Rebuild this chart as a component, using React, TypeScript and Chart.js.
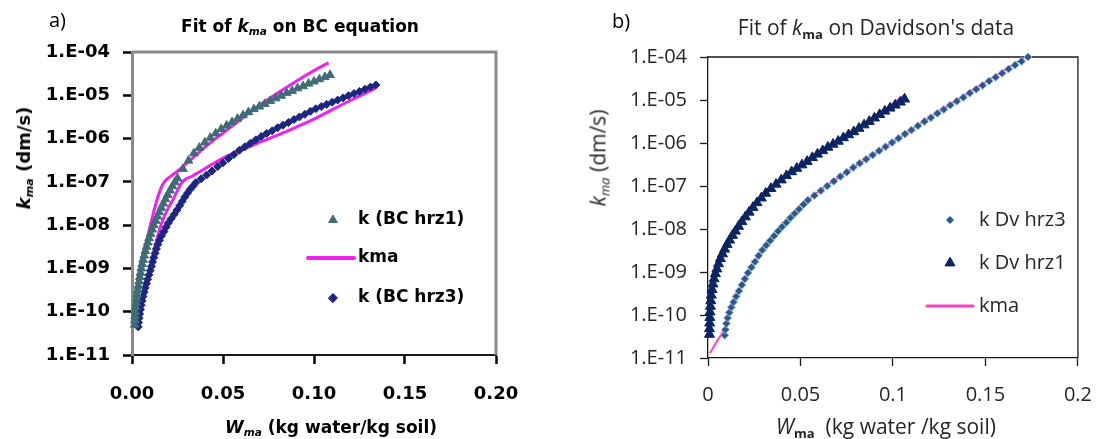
import React, { useEffect, useRef } from 'react';
import { Chart, registerables } from 'chart.js';
import { drawPoint } from 'chart.js/helpers';

Chart.register(...registerables);

// ---------- ticks ----------
const xTickValues = [0, 0.05, 0.1, 0.15, 0.2];
const leftXTickLabels = ['0.00', '0.05', '0.10', '0.15', '0.20'];
const rightXTickLabels = ['0', '0.05', '0.1', '0.15', '0.2'];
const yTickValues = [1e-11, 1e-10, 1e-9, 1e-8, 1e-7, 1e-6, 1e-5, 1e-4];
const yTickLabels = ['1.E-11', '1.E-10', '1.E-09', '1.E-08', '1.E-07', '1.E-06', '1.E-05', '1.E-04'];

// ---------- panel a) : W (kg/kg) and log10 k (dm/s) ----------
const leftHrz1W = [0.0015, 0.0016, 0.0017, 0.0018, 0.0020, 0.0022, 0.0025, 0.0028, 0.0031, 0.0035, 0.0039, 0.0043, 0.0047, 0.0051, 0.0056, 0.0061, 0.0067, 0.0073, 0.0080, 0.0087, 0.0094, 0.0102, 0.0111, 0.0120, 0.0130, 0.0140, 0.0150, 0.0161, 0.0172, 0.0184, 0.0196, 0.0209, 0.0222, 0.0236, 0.0250, 0.0280, 0.0310, 0.0340, 0.0370, 0.0400, 0.0430, 0.0460, 0.0490, 0.0520, 0.0550, 0.0580, 0.0610, 0.0640, 0.0670, 0.0700, 0.0730, 0.0760, 0.0790, 0.0820, 0.0850, 0.0880, 0.0910, 0.0940, 0.0970, 0.1000, 0.1030, 0.1060, 0.1088];
const leftHrz1LogK = [-10.30, -10.20, -10.10, -10.00, -9.90, -9.80, -9.70, -9.60, -9.50, -9.40, -9.30, -9.20, -9.10, -9.00, -8.90, -8.80, -8.70, -8.60, -8.50, -8.40, -8.30, -8.20, -8.10, -8.00, -7.90, -7.80, -7.70, -7.60, -7.50, -7.40, -7.30, -7.20, -7.10, -7.01, -6.92, -6.70, -6.51, -6.34, -6.21, -6.09, -5.98, -5.88, -5.78, -5.70, -5.62, -5.54, -5.46, -5.39, -5.32, -5.26, -5.20, -5.13, -5.07, -5.01, -4.95, -4.90, -4.84, -4.79, -4.73, -4.68, -4.63, -4.58, -4.53];

const leftHrz3W = [0.0034, 0.0036, 0.0039, 0.0042, 0.0046, 0.0050, 0.0055, 0.0060, 0.0066, 0.0072, 0.0079, 0.0086, 0.0093, 0.0100, 0.0107, 0.0113, 0.0120, 0.0127, 0.0134, 0.0142, 0.0151, 0.0162, 0.0175, 0.0187, 0.0200, 0.0215, 0.0232, 0.0247, 0.0262, 0.0276, 0.0290, 0.0305, 0.0320, 0.0335, 0.0350, 0.038, 0.041, 0.044, 0.047, 0.050, 0.053, 0.056, 0.059, 0.062, 0.065, 0.068, 0.071, 0.074, 0.077, 0.080, 0.083, 0.086, 0.089, 0.092, 0.095, 0.098, 0.101, 0.104, 0.107, 0.110, 0.113, 0.116, 0.119, 0.122, 0.125, 0.128, 0.131, 0.134];
const leftHrz3LogK = [-10.35, -10.25, -10.15, -10.05, -9.95, -9.85, -9.75, -9.65, -9.55, -9.45, -9.35, -9.25, -9.15, -9.05, -8.95, -8.85, -8.75, -8.65, -8.55, -8.45, -8.35, -8.25, -8.15, -8.05, -7.95, -7.85, -7.75, -7.65, -7.55, -7.45, -7.35, -7.26, -7.17, -7.10, -7.02, -6.93, -6.84, -6.75, -6.65, -6.56, -6.46, -6.37, -6.27, -6.19, -6.11, -6.03, -5.95, -5.88, -5.82, -5.75, -5.69, -5.63, -5.56, -5.50, -5.44, -5.37, -5.31, -5.26, -5.21, -5.16, -5.11, -5.06, -5.01, -4.96, -4.91, -4.86, -4.81, -4.76];

const leftKma1W = [0.0020, 0.0030, 0.0044, 0.0060, 0.0080, 0.0100, 0.0120, 0.0140, 0.0160, 0.0180, 0.0210, 0.0260, 0.0320, 0.0400, 0.0500, 0.0600, 0.0700, 0.0800, 0.0900, 0.1000, 0.1080];
const leftKma1LogK = [-9.70, -9.35, -9.03, -8.72, -8.38, -8.02, -7.68, -7.38, -7.14, -6.99, -6.88, -6.72, -6.50, -6.20, -5.87, -5.55, -5.23, -4.95, -4.68, -4.43, -4.25];

const leftKma3W = [0.0050, 0.0060, 0.0070, 0.0081, 0.0090, 0.0099, 0.0112, 0.0126, 0.0150, 0.0172, 0.0200, 0.0227, 0.0250, 0.0270, 0.0290, 0.0330, 0.0374, 0.0430, 0.0500, 0.0600, 0.0700, 0.0800, 0.0900, 0.1000, 0.1100, 0.1200, 0.1337];
const leftKma3LogK = [-10.00, -9.80, -9.62, -9.45, -9.25, -9.03, -8.76, -8.50, -8.12, -7.85, -7.60, -7.40, -7.20, -7.04, -6.95, -6.87, -6.76, -6.62, -6.45, -6.27, -6.09, -5.92, -5.74, -5.55, -5.33, -5.12, -4.84];

// ---------- panel b) ----------
const rightHrz1W = [0.0008, 0.0008, 0.0009, 0.0010, 0.0011, 0.0013, 0.0015, 0.0018, 0.0022, 0.0027, 0.0033, 0.0040, 0.0048, 0.0057, 0.0067, 0.0078, 0.0090, 0.0103, 0.0117, 0.0132, 0.0148, 0.0165, 0.0183, 0.0202, 0.0222, 0.0243, 0.0265, 0.0288, 0.0312, 0.0340, 0.0368, 0.0396, 0.0424, 0.0452, 0.0480, 0.0508, 0.0536, 0.0564, 0.0592, 0.0620, 0.0648, 0.0676, 0.0704, 0.0732, 0.0760, 0.0788, 0.0816, 0.0844, 0.0872, 0.0900, 0.0928, 0.0956, 0.0984, 0.1012, 0.1040, 0.1063];
const rightHrz1LogK = [-10.45, -10.32, -10.19, -10.06, -9.93, -9.80, -9.67, -9.54, -9.41, -9.28, -9.16, -9.04, -8.93, -8.81, -8.69, -8.58, -8.47, -8.36, -8.26, -8.15, -8.05, -7.94, -7.83, -7.72, -7.61, -7.50, -7.39, -7.28, -7.17, -7.06, -6.96, -6.86, -6.76, -6.67, -6.59, -6.51, -6.43, -6.34, -6.26, -6.18, -6.10, -6.03, -5.96, -5.88, -5.81, -5.74, -5.66, -5.58, -5.50, -5.42, -5.34, -5.26, -5.19, -5.12, -5.05, -4.98];

const rightKma1W = [0.0002, 0.0015, 0.0030, 0.0050, 0.0080, 0.0120, 0.0180, 0.0250, 0.0340, 0.0450, 0.0600, 0.0750, 0.0900, 0.1063];
const rightKma1LogK = [-9.57, -9.30, -9.05, -8.82, -8.55, -8.22, -7.83, -7.45, -7.04, -6.66, -6.21, -5.80, -5.39, -4.88];

const rightHrz3W = [0.0090, 0.0094, 0.0099, 0.0106, 0.0115, 0.0126, 0.0138, 0.0152, 0.0167, 0.0183, 0.0199, 0.0216, 0.0235, 0.0254, 0.0274, 0.0294, 0.0315, 0.0336, 0.0357, 0.0379, 0.0400, 0.0423, 0.0446, 0.0469, 0.0492, 0.0516, 0.0540, 0.0575, 0.0610, 0.0645, 0.0680, 0.0715, 0.0750, 0.0785, 0.0820, 0.0855, 0.0890, 0.0925, 0.0960, 0.0995, 0.1030, 0.1065, 0.1100, 0.1135, 0.1170, 0.1205, 0.1240, 0.1275, 0.1310, 0.1345, 0.1380, 0.1415, 0.1450, 0.1485, 0.1520, 0.1555, 0.1590, 0.1625, 0.1660, 0.1695, 0.1730];
const rightHrz3LogK = [-10.47, -10.34, -10.20, -10.07, -9.94, -9.82, -9.70, -9.57, -9.44, -9.30, -9.16, -9.02, -8.89, -8.76, -8.62, -8.49, -8.38, -8.27, -8.16, -8.05, -7.95, -7.85, -7.74, -7.64, -7.54, -7.43, -7.33, -7.22, -7.11, -7.00, -6.89, -6.78, -6.68, -6.57, -6.47, -6.38, -6.28, -6.18, -6.09, -5.99, -5.89, -5.79, -5.70, -5.60, -5.50, -5.41, -5.31, -5.22, -5.12, -5.03, -4.94, -4.84, -4.75, -4.66, -4.56, -4.47, -4.38, -4.28, -4.19, -4.10, -4.00];

const rightKma3W = [0.0010, 0.0050, 0.0090, 0.0120, 0.0152, 0.0214, 0.0294, 0.0400, 0.0540, 0.0789, 0.0948, 0.1142, 0.1337, 0.1532, 0.1715];
const rightKma3LogK = [-10.89, -10.60, -10.31, -9.95, -9.60, -9.05, -8.50, -7.95, -7.33, -6.56, -6.12, -5.57, -5.03, -4.50, -4.00];

const leftLegendLabels = ['k (BC hrz1)', 'kma', 'k (BC hrz3)'];
const rightLegendLabels = ['k Dv hrz3', 'k Dv hrz1', 'kma'];

// ---------- colours ----------
const TEAL = '#3f6c76';
const NAVY_L = '#1c2680';
const PINK_L = '#f020f0';
const NAVY_R = '#0b2462';
const STEEL_R = '#2b5886';
const STEEL_R_EDGE = '#8fb4dc';
const PINK_R = '#ff3fc4';

const toPoints = (ws: number[], logs: number[]) => ws.map((w, i) => ({ x: w, y: Math.pow(10, logs[i]) }));

const framePlugin = {
  id: 'frame',
  beforeDatasetsDraw(chart: any, _args: any, opts: any) {
    const { ctx, chartArea: a } = chart;
    ctx.save();
    ctx.strokeStyle = opts.color;
    ctx.lineWidth = opts.width;
    ctx.beginPath();
    ctx.moveTo(a.left, a.top);
    ctx.lineTo(a.right, a.top);
    ctx.lineTo(a.right, a.bottom);
    ctx.stroke();
    ctx.restore();
  },
};

const legendPlugin = {
  id: 'boxLegend',
  afterDatasetsDraw(chart: any, _args: any, opts: any) {
    const { ctx, chartArea: a } = chart;
    ctx.save();
    opts.items.forEach((it: any, i: number) => {
      const y = a.top + opts.rows[i];
      if (it.kind === 'line') {
        ctx.strokeStyle = it.color;
        ctx.lineWidth = it.width;
        ctx.lineCap = 'round';
        ctx.beginPath();
        ctx.moveTo(a.left + opts.lineX0, y);
        ctx.lineTo(a.left + opts.lineX1, y);
        ctx.stroke();
      } else {
        ctx.fillStyle = it.color;
        ctx.strokeStyle = it.edge || it.color;
        ctx.lineWidth = 1;
        drawPoint(ctx, { pointStyle: it.style, radius: it.radius, rotation: 0, borderWidth: 1 } as any, a.left + opts.markerX, y);
      }
      ctx.font = opts.font;
      ctx.fillStyle = opts.textColor;
      ctx.textBaseline = 'middle';
      ctx.textAlign = 'left';
      ctx.fillText(it.label, a.left + opts.textX, y);
    });
    ctx.restore();
  },
};

function buildScales(p: any) {
  return {
    x: {
      type: 'linear',
      min: 0,
      max: 0.2,
      afterFit: (s: any) => { s.height = p.xHeight; },
      afterBuildTicks: (s: any) => { s.ticks = xTickValues.map((v) => ({ value: v })); },
      ticks: {
        autoSkip: false,
        maxRotation: 0,
        padding: p.xPad,
        color: p.textColor,
        font: p.tickFont,
        callback: (_v: any, i: number) => p.xLabels[i],
      },
      grid: { display: true, drawOnChartArea: false, drawTicks: true, tickLength: p.tickLen, tickColor: p.tickColor, tickWidth: p.tickWidth, color: 'rgba(0,0,0,0)' },
      border: { display: true, color: p.xBorderColor, width: p.xBorderWidth },
    },
    y: {
      type: 'logarithmic',
      min: 1e-11,
      max: 1e-4,
      afterFit: (s: any) => { s.width = p.yWidth; },
      afterBuildTicks: (s: any) => { s.ticks = yTickValues.map((v) => ({ value: v })); },
      ticks: {
        autoSkip: false,
        padding: p.yPad,
        color: p.textColor,
        font: p.tickFont,
        callback: (_v: any, i: number) => yTickLabels[i],
      },
      grid: { display: true, drawOnChartArea: false, drawTicks: true, tickLength: p.tickLen, tickColor: p.tickColor, tickWidth: p.tickWidth, color: 'rgba(0,0,0,0)' },
      border: { display: true, color: p.yBorderColor, width: p.yBorderWidth },
    },
  };
}

function leftConfig(): any {
  return {
    type: 'scatter',
    data: {
      datasets: [
        { label: leftLegendLabels[0], data: toPoints(leftHrz1W, leftHrz1LogK), showLine: false, pointStyle: 'triangle', pointRadius: 5, backgroundColor: TEAL, borderColor: TEAL, borderWidth: 1, clip: false },
        { label: leftLegendLabels[2], data: toPoints(leftHrz3W, leftHrz3LogK), showLine: false, pointStyle: 'rectRot', pointRadius: 4, backgroundColor: NAVY_L, borderColor: NAVY_L, borderWidth: 1, clip: false },
        { label: leftLegendLabels[1], data: toPoints(leftKma1W, leftKma1LogK), showLine: true, pointRadius: 0, borderColor: PINK_L, borderWidth: 3, cubicInterpolationMode: 'monotone', clip: false },
        { label: leftLegendLabels[1], data: toPoints(leftKma3W, leftKma3LogK), showLine: true, pointRadius: 0, borderColor: PINK_L, borderWidth: 3, cubicInterpolationMode: 'monotone', clip: false },
      ],
    },
    options: {
      responsive: false,
      animation: false,
      events: [],
      layout: { padding: { left: 0, top: 52, right: 53, bottom: 0 } },
      plugins: {
        legend: { display: false },
        tooltip: { enabled: false },
        frame: { color: '#8a8a8a', width: 3 },
        boxLegend: {
          font: 'bold 17px "DejaVu Sans"',
          textColor: '#000',
          markerX: 201,
          textX: 226,
          lineX0: 176,
          lineX1: 222,
          rows: [168, 206, 246],
          items: [
            { kind: 'point', style: 'triangle', radius: 5, color: TEAL, label: leftLegendLabels[0] },
            { kind: 'line', color: PINK_L, width: 4, label: leftLegendLabels[1] },
            { kind: 'point', style: 'rectRot', radius: 4.5, color: NAVY_L, label: leftLegendLabels[2] },
          ],
        },
      },
      scales: buildScales({
        xHeight: 84, yWidth: 132, xPad: 20, yPad: 13, tickLen: 9, tickColor: '#000', tickWidth: 2.5,
        textColor: '#000', tickFont: { family: 'DejaVu Sans', size: 18, weight: 'bold' },
        xLabels: leftXTickLabels, xBorderColor: '#1a1a1a', xBorderWidth: 2, yBorderColor: '#8a8a8a', yBorderWidth: 3,
      }),
    },
    plugins: [framePlugin, legendPlugin],
  };
}

function rightConfig(): any {
  return {
    type: 'scatter',
    data: {
      datasets: [
        { label: rightLegendLabels[1], data: toPoints(rightHrz1W, rightHrz1LogK), showLine: false, pointStyle: 'triangle', pointRadius: 5.8, backgroundColor: NAVY_R, borderColor: NAVY_R, borderWidth: 1, clip: false },
        { label: rightLegendLabels[0], data: toPoints(rightHrz3W, rightHrz3LogK), showLine: false, pointStyle: 'rectRot', pointRadius: 4, backgroundColor: STEEL_R, borderColor: STEEL_R_EDGE, borderWidth: 1, clip: false },
        { label: rightLegendLabels[2], data: toPoints(rightKma1W, rightKma1LogK), showLine: true, pointRadius: 0, borderColor: PINK_R, borderWidth: 2, cubicInterpolationMode: 'monotone', clip: false },
        { label: rightLegendLabels[2], data: toPoints(rightKma3W, rightKma3LogK), showLine: true, pointRadius: 0, borderColor: PINK_R, borderWidth: 2, cubicInterpolationMode: 'monotone', clip: false },
      ],
    },
    options: {
      responsive: false,
      animation: false,
      events: [],
      layout: { padding: { left: 0, top: 57, right: 24, bottom: 0 } },
      plugins: {
        legend: { display: false },
        tooltip: { enabled: false },
        frame: { color: '#1a1a1a', width: 1.3 },
        boxLegend: {
          font: '20px "Open Sans"',
          textColor: '#262626',
          markerX: 242,
          textX: 271,
          lineX0: 219,
          lineX1: 265,
          rows: [163, 206, 249],
          items: [
            { kind: 'point', style: 'rectRot', radius: 4, color: STEEL_R, edge: STEEL_R_EDGE, label: rightLegendLabels[0] },
            { kind: 'point', style: 'triangle', radius: 5.8, color: NAVY_R, label: rightLegendLabels[1] },
            { kind: 'line', color: PINK_R, width: 3, label: rightLegendLabels[2] },
          ],
        },
      },
      scales: buildScales({
        xHeight: 81, yWidth: 159, xPad: 17, yPad: 13, tickLen: 8, tickColor: '#1a1a1a', tickWidth: 1.3,
        textColor: '#262626', tickFont: { family: 'Open Sans', size: 20 },
        xLabels: rightXTickLabels, xBorderColor: '#1a1a1a', xBorderWidth: 1.3, yBorderColor: '#1a1a1a', yBorderWidth: 1.3,
      }),
    },
    plugins: [framePlugin, legendPlugin],
  };
}

type TProps = { x: number; y: number; size: number; family: string; weight?: any; color: string; align?: 'left' | 'center'; rotate?: boolean; children: any };
function T({ x, y, size, family, weight, color, align, rotate, children }: TProps) {
  const tx = align === 'left' ? '0' : '-50%';
  return (
    <div
      style={{
        position: 'absolute', left: x, top: y,
        transform: `translate(${tx}, -50%)${rotate ? ' rotate(-90deg)' : ''}`,
        fontFamily: family, fontSize: size, fontWeight: weight || 'normal', color,
        lineHeight: 1, whiteSpace: 'pre',
      }}
    >
      {children}
    </div>
  );
}

const Sub = ({ children, italic, bold }: any) => (
  <span style={{ fontSize: '0.62em', position: 'relative', top: '0.3em', fontStyle: italic ? 'italic' : 'normal', fontWeight: bold ? 'bold' : undefined }}>{children}</span>
);

export default function App() {
  const leftRef = useRef<HTMLCanvasElement>(null);
  const rightRef = useRef<HTMLCanvasElement>(null);

  useEffect(() => {
    const a = new Chart(leftRef.current as HTMLCanvasElement, leftConfig());
    const b = new Chart(rightRef.current as HTMLCanvasElement, rightConfig());
    return () => { a.destroy(); b.destroy(); };
  }, []);

  const L = '"DejaVu Sans"';
  const R = '"Open Sans"';
  return (
    <div style={{ position: 'absolute', left: 0, top: 0, width: 1099, height: 439, overflow: 'hidden', background: '#fff' }}>
      <canvas ref={leftRef} width={549} height={439} style={{ position: 'absolute', left: 0, top: 0 }} />
      <canvas ref={rightRef} width={560} height={439} style={{ position: 'absolute', left: 549, top: 0 }} />

      <T x={49} y={20} size={20} family={R} color="#000" align="left">a)</T>
      <T x={300} y={26} size={17} family={L} weight="bold" color="#000">
        Fit of <i>k</i><Sub italic>ma</Sub> on BC equation
      </T>
      <T x={24} y={158} size={18} family={L} weight="bold" color="#000" rotate>
        <i>k</i><Sub italic>ma</Sub> (dm/s)
      </T>
      <T x={331} y={427} size={17} family={L} weight="bold" color="#000">
        <i>W</i><Sub italic>ma</Sub> (kg water/kg soil)
      </T>

      <T x={612} y={21} size={20} family={R} color="#000" align="left">b)</T>
      <T x={876} y={27} size={21} family={R} color="#262626">
        Fit of <i>k</i><Sub bold>ma</Sub> on Davidson's data
      </T>
      <T x={598} y={158} size={21} family={R} color="#262626" rotate>
        <i>k</i><Sub italic>ma</Sub> (dm/s)
      </T>
      <T x={886} y={426} size={21} family={R} color="#262626">
        <i>W</i><Sub bold>ma</Sub>  (kg water /kg soil)
      </T>
    </div>
  );
}
